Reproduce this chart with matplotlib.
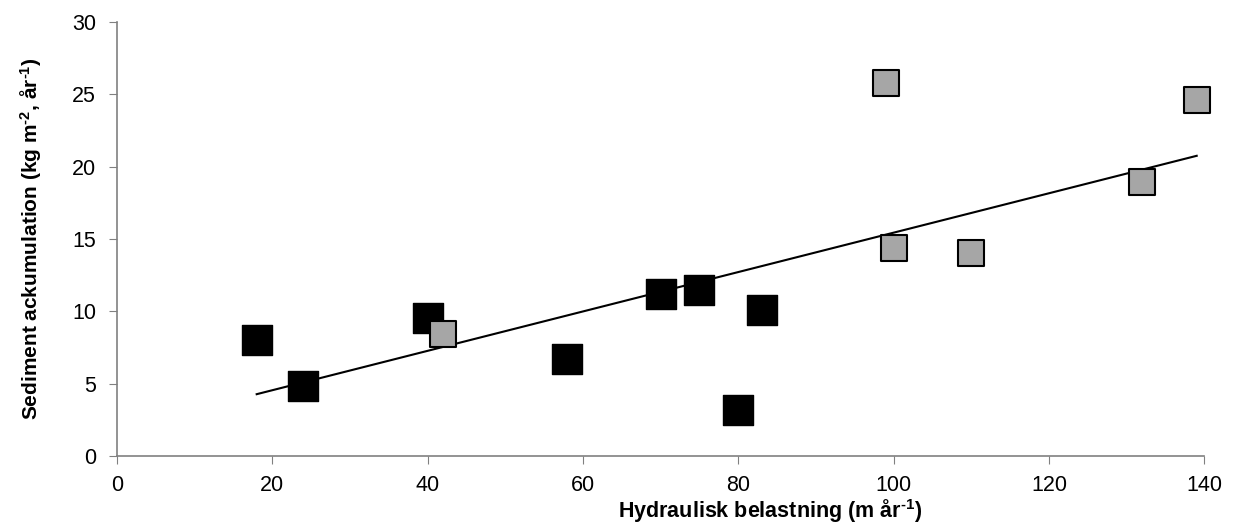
import matplotlib.pyplot as plt
import numpy as np

plt.rcParams['font.family'] = ['Liberation Sans', 'DejaVu Sans']
plt.rcParams['mathtext.fontset'] = 'custom'
plt.rcParams['mathtext.rm'] = 'Liberation Sans:bold'
plt.rcParams['mathtext.bf'] = 'Liberation Sans:bold'
plt.rcParams['mathtext.default'] = 'bf'

# black squares
xBlack = [18, 24, 40, 58, 70, 75, 80, 83]
yBlack = [8.0, 4.8, 9.5, 6.7, 11.2, 11.5, 3.2, 10.1]
# grey squares
xGrey = [42, 99, 100, 110, 132, 139]
yGrey = [8.4, 25.8, 14.4, 14.0, 18.9, 24.6]

xTicks = [0, 20, 40, 60, 80, 100, 120, 140]
yTicks = [0, 5, 10, 15, 20, 25, 30]

fig = plt.figure(figsize=(12.43, 5.32), dpi=100)
ax = fig.add_axes([0.094, 0.143, 0.875, 0.816])

# linear trend over all points
xAll = np.array(xBlack + xGrey)
yAll = np.array(yBlack + yGrey)
k, m = np.polyfit(xAll, yAll, 1)
xFit = np.array([xAll.min(), xAll.max()])
ax.plot(xFit, k * xFit + m, color='black', lw=1.5, zorder=2)

ax.scatter(xBlack, yBlack, marker='s', s=480, color='black', zorder=3,
           clip_on=False)
ax.scatter(xGrey, yGrey, marker='s', s=340, facecolor='#a6a6a6',
           edgecolor='black', linewidth=1.5, zorder=4, clip_on=False)

ax.set_xlim(0, 140)
ax.set_ylim(0, 30)
ax.set_xticks(xTicks)
ax.set_yticks(yTicks)
ax.tick_params(labelsize=15.5, length=6, color='#808080')
ax.tick_params(axis='y', pad=9)
ax.tick_params(axis='x', pad=8)
for s in ['top', 'right']:
    ax.spines[s].set_visible(False)
for s in ['left', 'bottom']:
    ax.spines[s].set_color('#808080')
    ax.spines[s].set_linewidth(1.2)

hy = '\u2010'
ax.set_xlabel('Hydraulisk belastning (m år$^{' + hy + '1}$)', fontsize=15.5,
              fontweight='bold')
ax.xaxis.set_label_coords(0.601, -0.095)
ax.set_ylabel('Sediment ackumulation (kg m$^{' + hy + '2}$, år$^{' + hy + '1}$)',
              fontsize=15, fontweight='bold')
ax.yaxis.set_label_coords(-0.067, 0.5)

fig.savefig('out.png', dpi=100)
